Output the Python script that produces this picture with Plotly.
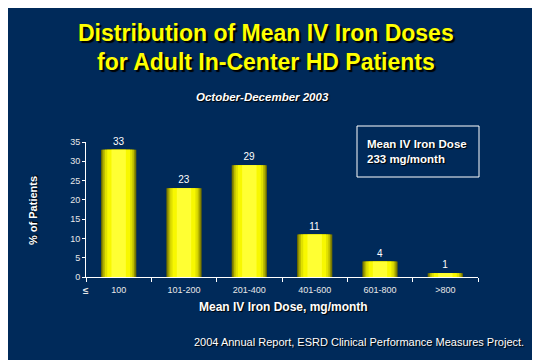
import plotly.graph_objects as go

categories = ["100", "101-200", "201-400", "401-600", "601-800", ">800"]
values = [33, 23, 29, 11, 4, 1]
y_ticks = [0, 5, 10, 15, 20, 25, 30, 35]

BG = "#002a5a"
FONT = "Arial, Liberation Sans, sans-serif"
SH = "1px 1px 1px #000000"

# page body offset of the plot div
OX, OY = 8, 8
W, H = 540, 360
L, R, T, B = 86 - OX, 62 + OX, 142 - OY, 83 + OY

fig = go.Figure()

layers = [
    (0.54, "#6a6a00"),
    (0.51, "#909000"),
    (0.47, "#bcbc00"),
    (0.42, "#e0e000"),
    (0.35, "#f8f800"),
    (0.22, "#ffff33"),
]
for i, (w, c) in enumerate(layers):
    fig.add_trace(go.Bar(
        x=categories, y=values, width=w,
        marker=dict(color=c, line=dict(width=0)),
        text=[str(v) for v in values] if i == 0 else None,
        textposition="outside" if i == 0 else "none",
        textfont=dict(color="white", size=10, family=FONT),
        cliponaxis=False, hoverinfo="skip", showlegend=False,
    ))

fig.update_layout(
    barmode="overlay",
    width=W, height=H,
    paper_bgcolor=BG, plot_bgcolor=BG,
    margin=dict(l=L, r=R, t=T, b=B),
    font=dict(family=FONT, color="white"),
    xaxis=dict(
        type="category", tickson="boundaries", ticks="outside", ticklen=4,
        tickcolor="white", showline=True, linecolor="white", linewidth=1,
        showgrid=False, tickfont=dict(size=9, color="#e8e8e8"),
        ticklabelstandoff=4, range=[-0.5, 5.5],
    ),
    yaxis=dict(
        range=[0, 35], tickvals=y_ticks, ticks="outside", ticklen=3,
        tickcolor="white", showline=True, linecolor="white", linewidth=1,
        showgrid=False, zeroline=False, tickfont=dict(size=9, color="#e8e8e8"),
    ),
)

PW = W - L - R
PH = H - T - B

def paper_y(py):
    return (H - B - (py - OY)) / PH

def paper_x(px):
    return ((px - OX) - L) / PW

def add_text(text, px, py, size, color="white", xanchor="center", yanchor="middle",
             textangle=0, shadow=SH, align="center"):
    fig.add_annotation(
        text=text, xref="paper", yref="paper", x=paper_x(px), y=paper_y(py),
        xanchor=xanchor, yanchor=yanchor, showarrow=False, textangle=textangle,
        align=align,
        font=dict(size=size, color=color, family=FONT, shadow=shadow),
    )

add_text("<b>Distribution of Mean IV Iron Doses</b>", 266, 33, 23, "#ffff00",
         shadow="2px 2px 1px #000000")
add_text("<b>for Adult In-Center HD Patients</b>", 266, 62, 23, "#ffff00",
         shadow="2px 2px 1px #000000")
add_text("<b><i>October-December 2003</i></b>", 262, 97, 11.5)
add_text("<b>% of Patients</b>", 33, 210, 11, textangle=-90)
add_text("<b>Mean IV Iron Dose, mg/month</b>", 283, 307, 12)
add_text("2004 Annual Report, ESRD Clinical Performance Measures Project.", 526, 342, 11,
         xanchor="right")
add_text("<b>≤</b>", 86, 290, 10, color="#e8e8e8", shadow="none")

fig.add_shape(type="rect", xref="paper", yref="paper",
              x0=paper_x(357), x1=paper_x(479), y0=paper_y(177), y1=paper_y(126),
              line=dict(color="white", width=1), fillcolor="rgba(0,0,0,0)")
add_text("<b>Mean IV Iron Dose<br>233 mg/month</b>", 365, 151, 11.5, xanchor="left",
         align="left")

fig.write_html("out.html")
